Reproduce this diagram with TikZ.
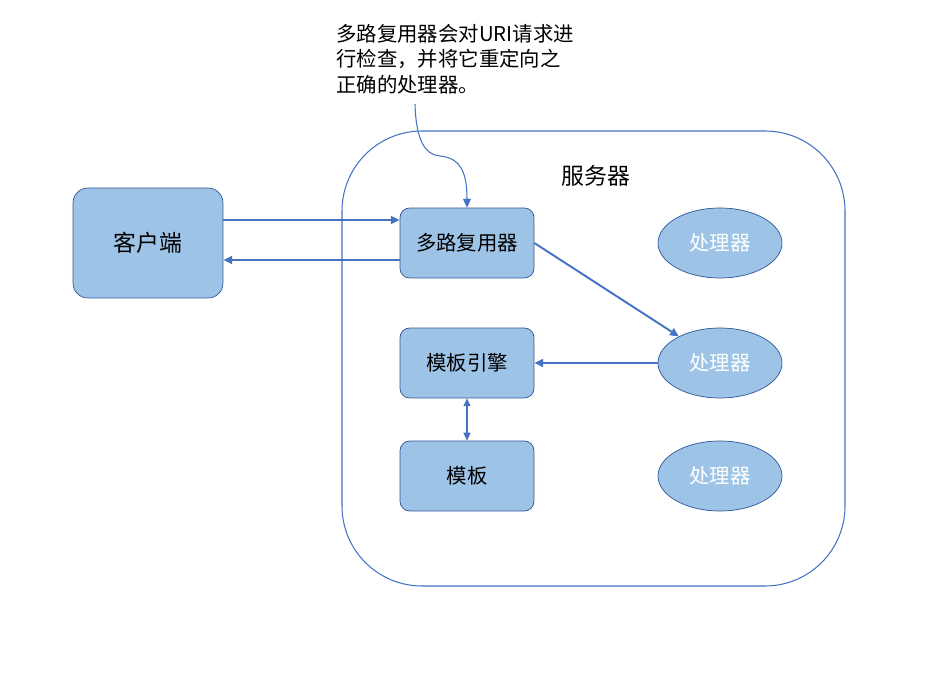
\documentclass[tikz,border=0pt]{standalone}
\usepackage{fontspec}
\setmainfont{Noto Sans CJK SC}
\usetikzlibrary{arrows.meta,positioning,shapes.geometric}
\definecolor{boxfill}{RGB}{157,195,230}
\definecolor{boxline}{RGB}{47,85,151}
\definecolor{wire}{RGB}{68,114,196}

\begin{document}
\begin{tikzpicture}[x=0.02cm,y=-0.02cm,
    part/.style={draw=boxline,fill=boxfill,rounded corners=5.5pt,
      minimum width=2.68cm,minimum height=1.4cm,
      font=\fontsize{11.6}{14}\selectfont},
    handler/.style={ellipse,draw=boxline,fill=boxfill,text=white,
      minimum width=2.48cm,minimum height=1.4cm,
      font=\fontsize{11.6}{14}\selectfont},
    link/.style={wire,line width=1.1pt,-{Triangle[length=5pt,width=4.5pt]}}]
  \useasboundingbox (0,0) rectangle (950,685);

  % server frame
  \draw[wire,line width=0.6pt,rounded corners=1.6cm] (342,131) rectangle (845,586);
  \node[font=\fontsize{13}{15}\selectfont] (server) at (596,176) {服务器};

  % client and boxes
  \node[part,minimum width=3cm,minimum height=2.2cm,rounded corners=8.5pt,
    font=\fontsize{13}{15}\selectfont] (client) at (148,243) {客户端};
  \node[part] (mux) at (467,243) {多路复用器};
  \node[part] (engine) at (467,363) {模板引擎};
  \node[part] (tmpl) at (467,476) {模板};

  % handlers
  \node[handler] (h1) at (720,243) {处理器};
  \node[handler] (h2) at (720,363) {处理器};
  \node[handler] (h3) at (720,476) {处理器};

  % note
  \node[anchor=north west,inner sep=0pt,align=left,
    font=\fontsize{11.6}{14.5}\selectfont] (note) at (336,24)
    {多路复用器会对URI请求进\\行检查，并将它重定向之\\正确的处理器。};
  \coordinate (tail) at (415,104);
  \draw[wire,line width=0.6pt,-{Triangle[length=5pt,width=4.5pt]}]
    (tail) .. controls (416,140) and (425,155) .. (440,156)
    .. controls (462,158) and (467,175) .. (mux.north);

  % connectors
  \draw[link] ([yshift=0.46cm]client.east) -- ([yshift=0.46cm]mux.west);
  \draw[link] ([yshift=-0.34cm]mux.west) -- ([yshift=-0.34cm]client.east);
  \draw[link] (mux.east) -- (h2);
  \draw[link] (h2.west) -- (engine.east);
  \draw[wire,line width=0.6pt,{Triangle[length=4.5pt,width=4pt]}-{Triangle[length=4.5pt,width=4pt]}]
    (engine.south) -- (tmpl.north);
\end{tikzpicture}
\end{document}
